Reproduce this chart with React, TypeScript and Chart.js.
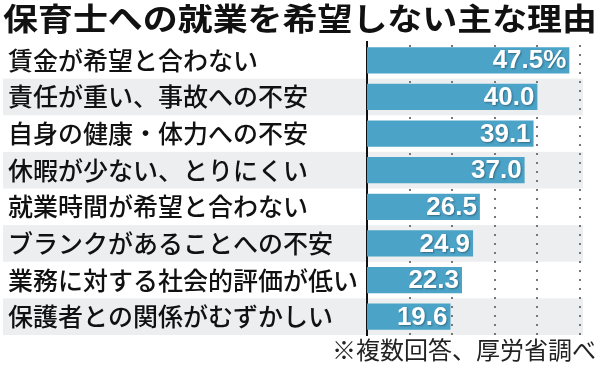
import React, { useEffect, useRef } from "react";
import { Chart, registerables } from "chart.js";

Chart.register(...registerables);

const titleText = "保育士への就業を希望しない主な理由";
const noteText = "※複数回答、厚労省調べ";
const categories = [
  "賃金が希望と合わない",
  "責任が重い、事故への不安",
  "自身の健康・体力への不安",
  "休暇が少ない、とりにくい",
  "就業時間が希望と合わない",
  "ブランクがあることへの不安",
  "業務に対する社会的評価が低い",
  "保護者との関係がむずかしい",
];
const values = [47.5, 40.0, 39.1, 37.0, 26.5, 24.9, 22.3, 19.6];
const valueLabels = ["47.5%", "40.0", "39.1", "37.0", "26.5", "24.9", "22.3", "19.6"];
const gridValues = [10, 20, 30, 40, 50];
const axisMax = 50;

const JP = "'Noto Sans CJK JP', 'Noto Sans', sans-serif";
const NUM = "'Liberation Sans Narrow', 'Arial Narrow', 'Liberation Sans', sans-serif";

const decorPlugin = {
  id: "decor",
  beforeDraw(chart: any) {
    const { ctx } = chart;
    const y = chart.scales.y;
    ctx.save();
    ctx.fillStyle = "#eceef0";
    const h = (y.bottom - y.top) / categories.length;
    for (let i = 0; i < categories.length; i++) {
      if (i % 2 === 1) {
        const c = y.getPixelForValue(i);
        ctx.fillRect(3, c - h / 2, 580, h);
      }
    }
    ctx.restore();
  },
  afterDatasetsDraw(chart: any) {
    const { ctx, chartArea } = chart;
    const x = chart.scales.x;
    const meta = chart.getDatasetMeta(0);
    // dotted grid lines (skipping parts hidden behind bars)
    ctx.save();
    ctx.fillStyle = "#777777";
    gridValues.forEach((v) => {
      const px = Math.round(x.getPixelForValue(v));
      for (let py = chartArea.top + 3; py < chartArea.bottom; py += 9) {
        const covered = meta.data.some((bar: any) => {
          const half = bar.height / 2;
          return py + 2 > bar.y - half && py < bar.y + half && px - 1 < bar.x - 1;
        });
        if (!covered) ctx.fillRect(px - 1, py, 2, 2);
      }
    });
    ctx.restore();

    ctx.save();
    ctx.font = `bold 26px ${NUM}`;
    ctx.fillStyle = "#fff";
    ctx.textAlign = "right";
    ctx.textBaseline = "middle";
    ctx.shadowColor = "rgba(0,0,0,0.35)";
    ctx.shadowBlur = 2;
    ctx.shadowOffsetX = 1;
    ctx.shadowOffsetY = 1;
    meta.data.forEach((bar: any, i: number) => {
      ctx.fillText(valueLabels[i], bar.x - 3, bar.y + 1);
    });
    ctx.restore();
  },
  afterDraw(chart: any) {
    const { ctx } = chart;
    ctx.save();
    ctx.font = `bold 31px ${JP}`;
    ctx.fillStyle = "#111";
    ctx.textBaseline = "middle";
    ctx.textAlign = "left";
    const w = ctx.measureText(titleText).width;
    const target = 594;
    ctx.translate(3, 18);
    ctx.scale(target / w, 1);
    ctx.fillText(titleText, 0, 0);
    ctx.restore();

    ctx.save();
    ctx.font = `24px ${JP}`;
    ctx.fillStyle = "#222";
    ctx.textBaseline = "middle";
    ctx.textAlign = "right";
    ctx.fillText(noteText, 596, 350);
    ctx.restore();
  },
};

export default function App() {
  const ref = useRef<HTMLCanvasElement>(null);
  useEffect(() => {
    document.body.style.margin = "0";
    const chart = new Chart(ref.current!, {
      type: "bar",
      data: {
        labels: categories,
        datasets: [
          {
            data: values,
            backgroundColor: "#4ba3c8",
            borderWidth: 0,
            barPercentage: 0.72,
            categoryPercentage: 1,
          },
        ],
      },
      options: {
        indexAxis: "y",
        animation: false,
        responsive: false,
        maintainAspectRatio: false,
        layout: { padding: { top: 42, bottom: 32, left: 8, right: 20 } },
        plugins: { legend: { display: false }, tooltip: { enabled: false }, title: { display: false } },
        scales: {
          x: {
            min: 0,
            max: axisMax,
            ticks: { display: false, stepSize: 10 },
            grid: { display: false, drawTicks: false },
            border: { display: false },
          },
          y: {
            ticks: {
              crossAlign: "far",
              padding: 0,
              color: "#111",
              font: { family: JP, size: 25, weight: "500" },
            },
            grid: { display: false, drawTicks: false },
            border: { display: true, color: "#111", width: 2 },
            afterFit: (scale: any) => {
              scale.width = 359;
            },
          },
        },
      },
      plugins: [decorPlugin],
    } as any);
    return () => chart.destroy();
  }, []);
  return (
    <div style={{ width: 600, height: 367 }}>
      <canvas ref={ref} width={600} height={367} style={{ display: "block" }} />
    </div>
  );
}
